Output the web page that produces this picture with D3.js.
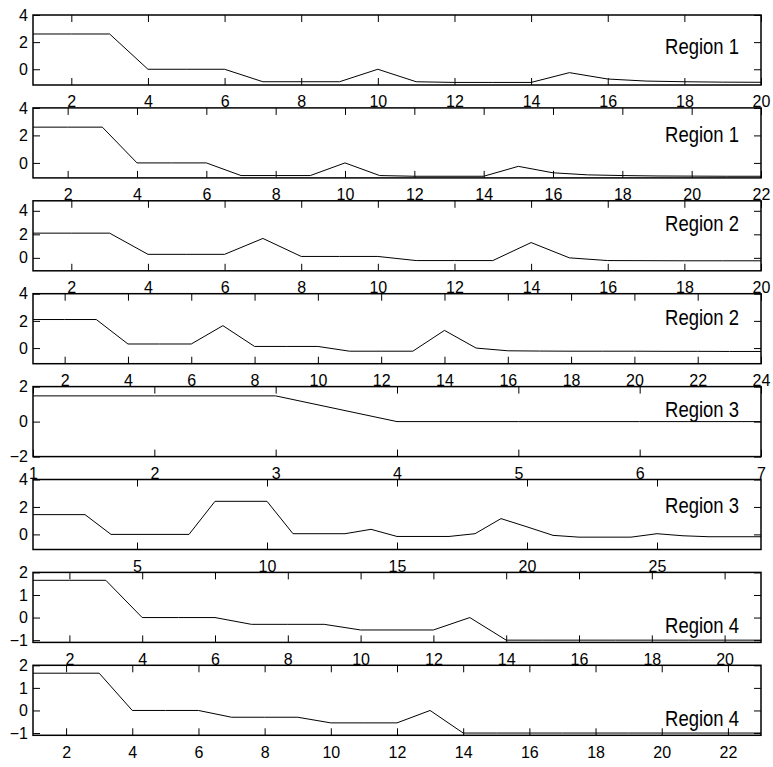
<!DOCTYPE html>
<html><head><meta charset="utf-8">
<script src="https://cdn.jsdelivr.net/npm/d3@7"></script>
<style>body{margin:0;background:#fff}svg{display:block}</style>
</head><body>
<svg id="c" width="773" height="767"></svg>
<script>
// ---- data ----
const region1A = [2.6,2.6,2.6,0,0,0,-0.92,-0.92,-0.92,0,-0.92,-0.97,-0.97,-0.97,-0.25,-0.72,-0.87,-0.92,-0.95,-0.96];
const region1B = [2.6,2.6,2.6,0,0,0,-0.92,-0.92,-0.92,0,-0.92,-0.97,-0.97,-0.97,-0.25,-0.72,-0.87,-0.92,-0.95,-0.96,-0.97,-0.97];
const region2A = [2.1,2.1,2.1,0.3,0.3,0.3,1.65,0.12,0.12,0.12,-0.23,-0.23,-0.23,1.3,0,-0.23,-0.24,-0.25,-0.25,-0.25];
const region2B = [2.1,2.1,2.1,0.3,0.3,0.3,1.65,0.12,0.12,0.12,-0.23,-0.23,-0.23,1.3,0,-0.2,-0.22,-0.23,-0.23,-0.23,-0.24,-0.24,-0.25,-0.25];
const region3A = [1.47,1.47,1.47,0,0,0,0];
const region3B = [1.44,1.44,1.44,0,0,0,0,2.41,2.41,2.41,0.05,0.05,0.05,0.37,-0.15,-0.15,-0.15,0.05,1.15,0.55,-0.07,-0.2,-0.2,-0.2,0.05,-0.1,-0.17,-0.17,-0.17];
const region4A = [1.65,1.65,1.65,0,0,0,-0.3,-0.3,-0.3,-0.55,-0.55,-0.55,0,-1,-1,-1,-1,-1,-1,-1,-1];
const region4B = [1.65,1.65,1.65,0,0,0,-0.3,-0.3,-0.3,-0.55,-0.55,-0.55,0,-1,-1,-1,-1,-1,-1,-1,-1,-1,-1];

const panelLabels = ["Region 1","Region 1","Region 2","Region 2","Region 3","Region 3","Region 4","Region 4"];
const yDomains = [[-1.16,4],[-1.09,4],[-1.1,4.85],[-1.15,4],[-2,2],[-1.1,4],[-1.1,2],[-1.1,2]];
const yTickValues = [[0,2,4],[0,2,4],[0,2,4],[0,2,4],[-2,0,2],[0,2,4],[-1,0,1,2],[-1,0,1,2]];
const xTickValues = [
  [2,4,6,8,10,12,14,16,18,20],
  [2,4,6,8,10,12,14,16,18,20,22],
  [2,4,6,8,10,12,14,16,18,20],
  [2,4,6,8,10,12,14,16,18,20,22,24],
  [1,2,3,4,5,6,7],
  [5,10,15,20,25],
  [2,4,6,8,10,12,14,16,18,20],
  [2,4,6,8,10,12,14,16,18,20,22]
];
const seriesList = [region1A, region1B, region2A, region2B, region3A, region3B, region4A, region4B];

// ---- layout ----
const left = 33, right = 761, firstTop = 15, step = 92.9, panelH = 70;
const labelOffsets = [31.7, 26.7, 22.3, 23.3, 22.6, 25.7, 53, 53];
const font = "'Liberation Sans', Arial, Helvetica, sans-serif";
const tickLen = 7;

const svg = d3.select("#c");
svg.append("rect").attr("width",773).attr("height",767).attr("fill","#fff");

seriesList.forEach((vals, i) => {
  const top = firstTop + i*step, bottom = top + panelH;
  const x = d3.scaleLinear().domain([1, vals.length]).range([left, right]);
  const y = d3.scaleLinear().domain(yDomains[i]).range([bottom, top]);
  const g = svg.append("g");
  g.append("rect").attr("x",left).attr("y",top).attr("width",right-left).attr("height",panelH).attr("fill","#fff");

  const clipId = "clip"+i;
  g.append("clipPath").attr("id",clipId).append("rect")
    .attr("x",left).attr("y",top).attr("width",right-left).attr("height",panelH);

  g.append("path").datum(vals)
    .attr("clip-path",`url(#${clipId})`)
    .attr("fill","none").attr("stroke","#000").attr("stroke-width",1)
    .attr("d", d3.line().x((d,k)=>x(k+1)).y(d=>y(d)));

  const xb = d3.axisBottom(x).tickValues(xTickValues[i]).tickSize(-tickLen).tickPadding(11).tickFormat(d3.format("d"));
  const xt = d3.axisTop(x).tickValues(xTickValues[i]).tickSize(-tickLen).tickFormat("");
  const yl = d3.axisLeft(y).tickValues(yTickValues[i]).tickSize(-tickLen).tickPadding(5).tickFormat(d=> d<0 ? "\u2212"+Math.abs(d) : d);
  const yr = d3.axisRight(y).tickValues(yTickValues[i]).tickSize(-tickLen).tickFormat("");

  const style = sel => {
    sel.select(".domain").remove();
    sel.selectAll(".tick line").attr("stroke","#000").attr("stroke-width",1);
    sel.selectAll(".tick text").attr("fill","#000").style("font-family",font).style("font-size","16px");
  };
  g.append("g").attr("transform",`translate(0,${bottom})`).call(xb).call(style);
  g.append("g").attr("transform",`translate(0,${top})`).call(xt).call(style);
  g.append("g").attr("transform",`translate(${left},0)`).call(yl).call(style);
  g.append("g").attr("transform",`translate(${right},0)`).call(yr).call(style);

  g.append("rect").attr("x",left).attr("y",top).attr("width",right-left).attr("height",panelH)
    .attr("fill","none").attr("stroke","#000").attr("stroke-width",1.5);

  g.append("text").attr("transform",`translate(739,${top+labelOffsets[i]}) scale(0.84,1)`)
    .attr("text-anchor","end").attr("dominant-baseline","central")
    .style("font-family",font).style("font-size","22px").attr("fill","#000")
    .text(panelLabels[i]);
});
</script>
</body></html>
